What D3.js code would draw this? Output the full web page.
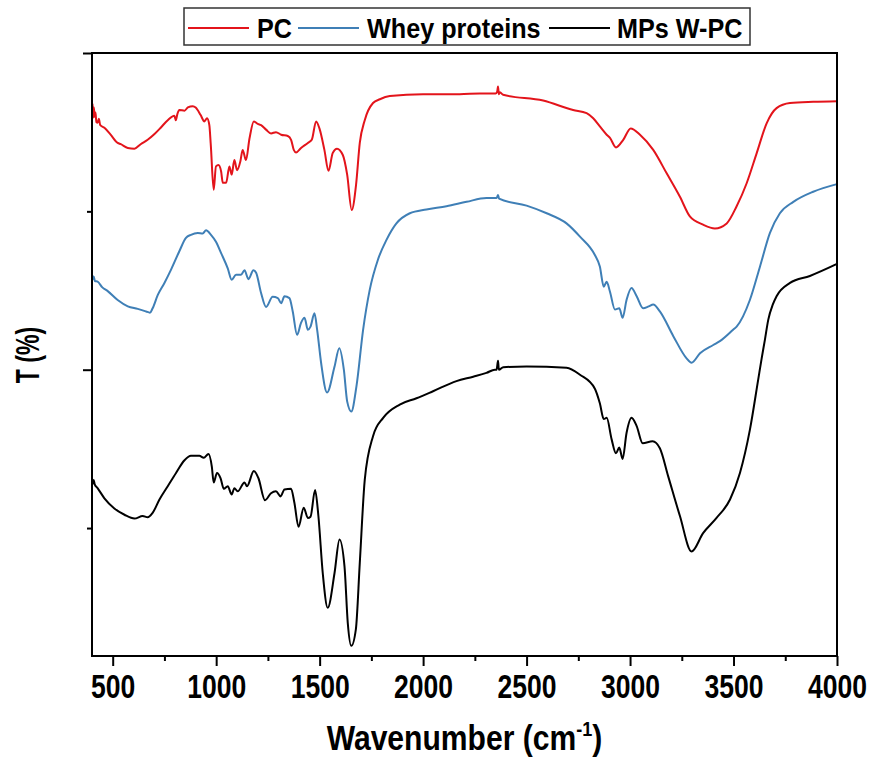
<!DOCTYPE html>
<html>
<head>
<meta charset="utf-8">
<script src="https://cdn.jsdelivr.net/npm/d3@7"></script>
<style>
  html, body { margin: 0; padding: 0; background: #fff; }
  svg text { font-family: "Liberation Sans", Arial, sans-serif; font-weight: bold; fill: #000; }
</style>
</head>
<body>
<div id="chart"></div>
<script>
// FTIR spectra: [wavenumber (cm-1), T (%)]
const seriesNames = ['PC', 'Whey proteins', 'MPs W-PC'];
const xMajorTicks = [500, 1000, 1500, 2000, 2500, 3000, 3500, 4000];
const xMinorTicks = [750, 1250, 1750, 2250, 2750, 3250, 3750];
const yMajorTicks = [50, 100];
const yMinorTicks = [25, 75];

const pcSpectrum = [
  [400, 90.7], [403, 92.0], [406, 89.8], [409, 91.4], [413, 89.9], [417, 90.6], [421, 89.1], [427, 89.0],
  [433, 89.6], [440, 88.6], [460, 88.2], [490, 87.1], [524, 85.8], [539, 85.6], [573, 85.0], [605, 84.9],
  [635, 85.6], [669, 86.3], [702, 87.2], [732, 88.2], [766, 89.4], [798, 90.1], [805, 89.4], [812, 90.3],
  [822, 91.0], [847, 90.9], [863, 91.4], [887, 91.6], [901, 91.4], [925, 90.2], [943, 89.2], [956, 89.7],
  [967, 88.6], [974, 85.5], [988, 78.4], [999, 82.1], [1011, 82.3], [1024, 81.3], [1032, 79.5], [1048, 79.5],
  [1064, 82.1], [1075, 80.8], [1088, 83.1], [1101, 81.5], [1117, 82.9], [1128, 84.7], [1144, 83.1], [1161, 86.5],
  [1182, 89.2], [1201, 88.8], [1217, 88.6], [1241, 87.9], [1265, 87.3], [1289, 87.5], [1314, 87.1], [1346, 86.9],
  [1362, 86.3], [1375, 84.7], [1386, 84.3], [1410, 85.0], [1443, 85.8], [1462, 86.3], [1483, 89.2], [1499, 88.1],
  [1523, 84.7], [1543, 81.4], [1563, 84.2], [1584, 84.9], [1612, 83.9], [1633, 80.8], [1655, 75.2], [1676, 79.2],
  [1694, 85.8], [1718, 89.4], [1758, 92.1], [1791, 92.7], [1839, 93.2], [2000, 93.5], [2177, 93.5], [2274, 93.6],
  [2350, 93.6], [2358, 93.9], [2362, 94.7], [2366, 93.5], [2371, 93.8], [2387, 93.4], [2580, 92.5], [2725, 91.0],
  [2790, 90.5], [2822, 89.7], [2854, 88.4], [2887, 87.1], [2903, 86.6], [2932, 85.1], [2967, 86.3], [3003, 88.1],
  [3048, 87.1], [3112, 84.7], [3177, 81.0], [3241, 77.3], [3289, 74.2], [3353, 72.9], [3410, 72.3], [3467, 73.1],
  [3515, 75.8], [3563, 79.4], [3612, 84.2], [3660, 88.9], [3708, 91.3], [3773, 92.1], [3885, 92.3], [4000, 92.4]
];

const wheySpectrum = [
  [400, 65.0], [404, 64.3], [408, 64.7], [414, 64.0], [427, 63.9], [450, 63.0], [476, 62.4], [524, 61.0],
  [573, 60.0], [621, 59.6], [661, 59.2], [680, 59.0], [693, 59.7], [718, 61.8], [750, 63.7], [782, 65.8],
  [822, 68.7], [854, 70.8], [878, 71.3], [911, 71.6], [935, 71.5], [951, 72.0], [975, 71.3], [999, 70.2],
  [1024, 68.4], [1056, 66.0], [1075, 64.2], [1096, 65.0], [1120, 65.0], [1137, 65.7], [1156, 64.3], [1180, 65.7],
  [1193, 65.3], [1217, 62.1], [1241, 59.9], [1273, 61.5], [1298, 61.3], [1314, 60.5], [1330, 61.6], [1354, 61.3],
  [1370, 59.2], [1391, 55.5], [1410, 57.4], [1427, 58.2], [1443, 56.3], [1456, 56.8], [1475, 58.9], [1488, 56.3],
  [1507, 51.1], [1536, 46.4], [1572, 50.5], [1595, 53.4], [1617, 50.0], [1633, 45.0], [1653, 43.4], [1678, 47.4],
  [1710, 56.3], [1742, 62.6], [1782, 67.4], [1823, 70.5], [1871, 73.1], [1936, 74.7], [2016, 75.3], [2113, 75.8],
  [2210, 76.5], [2306, 77.1], [2355, 77.1], [2362, 77.6], [2367, 77.0], [2500, 75.9], [2597, 74.7], [2693, 73.1],
  [2758, 71.0], [2830, 68.1], [2854, 66.3], [2873, 63.1], [2887, 63.9], [2903, 62.3], [2927, 59.5], [2948, 59.7],
  [2964, 58.2], [2983, 61.0], [3007, 62.9], [3032, 61.6], [3063, 59.7], [3090, 60.0], [3112, 60.3], [3144, 59.2],
  [3209, 55.3], [3273, 51.8], [3297, 51.1], [3338, 52.6], [3402, 53.9], [3434, 54.5], [3498, 56.3], [3515, 56.8],
  [3579, 61.0], [3628, 66.3], [3676, 71.6], [3724, 74.7], [3789, 76.5], [3885, 78.1], [4000, 79.3]
];

const mpsSpectrum = [
  [400, 32.9], [404, 32.0], [408, 32.6], [413, 31.9], [427, 31.3], [460, 29.7], [508, 28.1], [557, 27.1],
  [605, 26.5], [645, 26.9], [669, 26.7], [693, 27.4], [726, 29.5], [766, 31.6], [806, 33.7], [847, 35.7],
  [878, 36.4], [919, 36.4], [940, 36.1], [963, 36.7], [979, 34.7], [988, 32.2], [1004, 33.7], [1021, 32.9],
  [1037, 31.2], [1056, 31.6], [1075, 30.3], [1088, 31.3], [1104, 30.8], [1137, 32.2], [1149, 31.6], [1182, 34.0],
  [1204, 32.9], [1236, 29.4], [1265, 30.5], [1289, 30.8], [1311, 30.0], [1330, 31.1], [1362, 31.2], [1378, 29.0],
  [1398, 25.2], [1423, 28.2], [1443, 26.6], [1456, 26.8], [1478, 31.0], [1494, 26.9], [1515, 17.9], [1539, 12.4],
  [1572, 17.9], [1596, 23.2], [1620, 19.0], [1636, 10.0], [1653, 6.4], [1675, 9.0], [1694, 19.5], [1718, 32.6],
  [1758, 39.5], [1807, 42.4], [1887, 44.5], [1968, 45.5], [2048, 46.6], [2161, 48.2], [2242, 48.9], [2306, 49.5],
  [2347, 50.0], [2355, 50.0], [2362, 51.4], [2366, 50.0], [2387, 50.4], [2500, 50.5], [2693, 50.3], [2758, 49.2],
  [2830, 47.0], [2854, 44.7], [2873, 42.2], [2887, 42.4], [2911, 39.0], [2932, 36.8], [2948, 37.7], [2964, 35.9],
  [2983, 40.0], [3007, 42.4], [3032, 41.1], [3061, 38.4], [3109, 38.7], [3144, 37.6], [3184, 33.2], [3241, 26.9],
  [3297, 21.3], [3353, 24.2], [3418, 26.6], [3483, 29.5], [3531, 33.7], [3579, 40.5], [3619, 48.4], [3636, 51.8],
  [3652, 54.8], [3668, 57.9], [3690, 60.3], [3708, 61.6], [3773, 63.7], [3869, 64.8], [4000, 66.7]
];

const seriesColors = ['#e3141b', '#3f7fb6', '#000000'];
const spectra = [pcSpectrum, wheySpectrum, mpsSpectrum];

const width = 874;
const height = 760;
const margin = { top: 53, right: 37, bottom: 104, left: 92 };

const svg = d3.select('#chart').append('svg')
  .attr('width', width)
  .attr('height', height)
  .attr('viewBox', `0 0 ${width} ${height}`);

const x = d3.scaleLinear().domain([400, 4000]).range([margin.left, width - margin.right]);
const y = d3.scaleLinear().domain([4.8, 100]).range([height - margin.bottom, margin.top]);

const line = d3.line()
  .x((d) => x(d[0]))
  .y((d) => y(d[1]))
  .curve(d3.curveMonotoneX);

// curves
svg.append('g')
  .selectAll('path')
  .data(spectra)
  .join('path')
  .attr('d', (d) => line(d))
  .attr('fill', 'none')
  .attr('stroke', (_, i) => seriesColors[i])
  .attr('stroke-width', 2)
  .attr('stroke-linejoin', 'round');

// x axis, major + minor ticks
const xAxis = svg.append('g')
  .attr('transform', `translate(0, ${height - margin.bottom})`)
  .call(d3.axisBottom(x).tickValues(xMajorTicks).tickSize(10).tickPadding(8).tickFormat(d3.format('d')));
xAxis.select('.domain').remove();
xAxis.selectAll('line').attr('stroke-width', 2);
xAxis.selectAll('text')
  .attr('font-size', 34)
  .attr('transform', 'scale(0.78,1)');

svg.append('g')
  .attr('transform', `translate(0, ${height - margin.bottom})`)
  .call(d3.axisBottom(x).tickValues(xMinorTicks).tickSize(5).tickFormat(''))
  .call((g) => g.select('.domain').remove())
  .selectAll('line').attr('stroke-width', 2);

// y axis, no labels
svg.append('g')
  .attr('transform', `translate(${margin.left}, 0)`)
  .call(d3.axisLeft(y).tickValues(yMajorTicks).tickSize(9).tickFormat(''))
  .call((g) => g.select('.domain').remove())
  .selectAll('line').attr('stroke-width', 2);

svg.append('g')
  .attr('transform', `translate(${margin.left}, 0)`)
  .call(d3.axisLeft(y).tickValues(yMinorTicks).tickSize(5).tickFormat(''))
  .call((g) => g.select('.domain').remove())
  .selectAll('line').attr('stroke-width', 2);

// frame
svg.append('rect')
  .attr('x', margin.left)
  .attr('y', margin.top)
  .attr('width', width - margin.left - margin.right)
  .attr('height', height - margin.top - margin.bottom)
  .attr('fill', 'none')
  .attr('stroke', '#000')
  .attr('stroke-width', 2);

// axis titles
const xTitle = svg.append('text')
  .attr('text-anchor', 'middle')
  .attr('font-size', 35)
  .attr('transform', `translate(${(margin.left + width - margin.right) / 2}, 750) scale(0.86,1)`);
xTitle.append('tspan').text('Wavenumber (cm');
xTitle.append('tspan').attr('font-size', 21).attr('dy', -14).text('-1');
xTitle.append('tspan').attr('dy', 14).text(')');

svg.append('text')
  .attr('text-anchor', 'middle')
  .attr('font-size', 33)
  .attr('transform', 'translate(39, 355) rotate(-90) scale(0.7,1)')
  .text('T (%)');

// legend
const legendItems = [
  { lineX: 188, textX: 257 },
  { lineX: 298, textX: 367 },
  { lineX: 549, textX: 617 }
];

const legend = svg.append('g');
legend.append('rect')
  .attr('x', 184)
  .attr('y', 8)
  .attr('width', 566)
  .attr('height', 37)
  .attr('fill', '#fff')
  .attr('stroke', '#333')
  .attr('stroke-width', 1.5);

legendItems.forEach((item, i) => {
  legend.append('line')
    .attr('x1', item.lineX)
    .attr('x2', item.lineX + 61)
    .attr('y1', 28)
    .attr('y2', 28)
    .attr('stroke', seriesColors[i])
    .attr('stroke-width', 2);
  legend.append('text')
    .attr('font-size', 28)
    .attr('transform', `translate(${item.textX}, 38) scale(0.9,1)`)
    .text(seriesNames[i]);
});
</script>
</body>
</html>
